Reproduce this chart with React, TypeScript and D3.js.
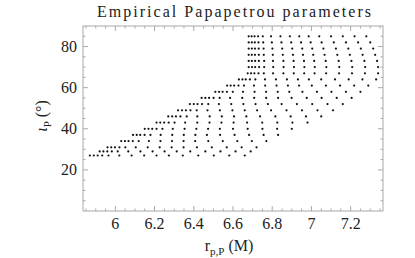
import React from 'react';
import * as d3 from 'd3';

// inclination rows (deg), top to bottom
const iotaRows = [85, 82, 79, 76, 73, 70, 67, 64, 61, 58, 55, 52, 49, 46, 43, 40, 37, 34, 31, 29, 27];

// r_{p,P} values of the dots on each row, left to right
const rpRows = [
  [6.68, 6.695, 6.71, 6.728, 6.752, 6.794, 6.842, 6.89, 6.938, 6.986, 7.04, 7.10, 7.16, 7.22, 7.28],
  [6.68, 6.696, 6.711, 6.73, 6.754, 6.798, 6.847, 6.897, 6.947, 6.996, 7.052, 7.114, 7.176, 7.238, 7.30],
  [6.68, 6.696, 6.712, 6.731, 6.756, 6.801, 6.851, 6.902, 6.953, 7.004, 7.061, 7.125, 7.188, 7.252, 7.315],
  [6.68, 6.696, 6.712, 6.732, 6.757, 6.803, 6.854, 6.906, 6.957, 7.009, 7.067, 7.132, 7.196, 7.261, 7.325],
  [6.68, 6.696, 6.713, 6.732, 6.759, 6.804, 6.857, 6.909, 6.962, 7.014, 7.073, 7.139, 7.204, 7.27, 7.335],
  [6.68, 6.697, 6.713, 6.733, 6.759, 6.805, 6.858, 6.911, 6.964, 7.017, 7.076, 7.142, 7.208, 7.274, 7.34],
  [6.675, 6.692, 6.709, 6.73, 6.757, 6.804, 6.857, 6.91, 6.963, 7.016, 7.075, 7.141, 7.207, 7.273, 7.34],
  [6.63, 6.648, 6.665, 6.686, 6.714, 6.763, 6.819, 6.875, 6.931, 6.987, 7.05, 7.12, 7.19, 7.26, 7.33],
  [6.57, 6.588, 6.606, 6.628, 6.656, 6.707, 6.764, 6.822, 6.88, 6.937, 7.002, 7.074, 7.146, 7.218, 7.29],
  [6.51, 6.529, 6.547, 6.569, 6.599, 6.651, 6.71, 6.769, 6.828, 6.887, 6.954, 7.028, 7.102, 7.176, 7.25],
  [6.44, 6.459, 6.478, 6.501, 6.532, 6.585, 6.647, 6.708, 6.769, 6.83, 6.899, 6.976, 7.052, 7.129, 7.205],
  [6.38, 6.40, 6.419, 6.442, 6.474, 6.528, 6.591, 6.653, 6.715, 6.778, 6.848, 6.926, 7.004, 7.082, 7.16],
  [6.32, 6.34, 6.36, 6.383, 6.415, 6.47, 6.533, 6.597, 6.66, 6.723, 6.794, 6.873, 6.952, 7.031, 7.11],
  [6.27, 6.29, 6.309, 6.332, 6.364, 6.418, 6.481, 6.543, 6.605, 6.668, 6.738, 6.816, 6.894, 6.972, 7.05],
  [6.21, 6.229, 6.249, 6.272, 6.302, 6.356, 6.418, 6.48, 6.541, 6.603, 6.672, 6.749, 6.826, 6.903, 6.98],
  [6.15, 6.169, 6.188, 6.21, 6.24, 6.293, 6.353, 6.413, 6.473, 6.533, 6.60, 6.675, 6.75, 6.825, 6.90],
  [6.09, 6.109, 6.127, 6.149, 6.179, 6.231, 6.29, 6.349, 6.408, 6.467, 6.534, 6.608, 6.682, 6.756, 6.83],
  [6.03, 6.049, 6.067, 6.089, 6.119, 6.171, 6.23, 6.289, 6.348, 6.407, 6.474, 6.548, 6.622, 6.696, 6.77],
  [5.96, 5.979, 5.998, 6.021, 6.051, 6.104, 6.165, 6.226, 6.287, 6.348, 6.416, 6.492, 6.568, 6.644, 6.72],
  [5.92, 5.939, 5.959, 5.982, 6.012, 6.066, 6.128, 6.19, 6.251, 6.313, 6.382, 6.459, 6.536, 6.613, 6.69],
  [5.87, 5.89, 5.91, 5.933, 5.965, 6.02, 6.083, 6.147, 6.21, 6.273, 6.344, 6.423, 6.502, 6.581, 6.66],
];

const xTickLabels = ['6', '6.2', '6.4', '6.6', '6.8', '7', '7.2'];
const yTickLabels = ['20', '40', '60', '80'];

const W = 415;
const H = 258;
const FONT = '"Liberation Serif", "DejaVu Serif", serif';
const AXIS = '#a8a8a8';

export default function App() {
  const margin = { top: 26, right: 32, bottom: 47, left: 83 };

  const x = d3.scaleLinear().domain([5.835, 7.365]).range([margin.left, W - margin.right]);
  const y = d3.scaleLinear().domain([0, 90]).range([H - margin.bottom, margin.top]);

  const x0 = margin.left, x1 = W - margin.right;
  const y0 = H - margin.bottom, y1 = margin.top;

  const xMinor = d3.range(5.85, 7.36, 0.05);
  const xMajor = xTickLabels.map(Number);
  const yMinor = d3.range(5, 90, 5);
  const yMajor = yTickLabels.map(Number);

  const points = iotaRows.flatMap((iota, i) => rpRows[i].map(r => ({ r, iota })));

  return (
    <svg width={W} height={H} style={{ position: 'absolute', left: 0, top: 0, background: 'white' }}>
      {/* frame */}
      <rect x={x0} y={y1} width={x1 - x0} height={y0 - y1} fill="none" stroke={AXIS} strokeWidth={1} />

      {/* x ticks, bottom and top */}
      {xMinor.map((v, i) => {
        const major = xMajor.some(m => Math.abs(m - v) < 1e-6);
        const len = major ? 5 : 2.5;
        return (
          <g key={'xt' + i} stroke={AXIS}>
            <line x1={x(v)} x2={x(v)} y1={y0} y2={y0 - len} />
            <line x1={x(v)} x2={x(v)} y1={y1} y2={y1 + len} />
          </g>
        );
      })}
      {/* y ticks, left and right */}
      {yMinor.map((v, i) => {
        const major = yMajor.includes(v);
        const len = major ? 5 : 2.5;
        return (
          <g key={'yt' + i} stroke={AXIS}>
            <line x1={x0} x2={x0 + len} y1={y(v)} y2={y(v)} />
            <line x1={x1} x2={x1 - len} y1={y(v)} y2={y(v)} />
          </g>
        );
      })}

      {/* tick labels */}
      {xTickLabels.map(t => (
        <text key={'xl' + t} x={x(+t)} y={229} textAnchor="middle" fontFamily={FONT} fontSize={16} fill="#222">
          {t}
        </text>
      ))}
      {yTickLabels.map(t => (
        <text key={'yl' + t} x={77} y={y(+t) + 5.5} textAnchor="end" fontFamily={FONT} fontSize={16} fill="#222">
          {t}
        </text>
      ))}

      {/* dots */}
      {points.map((p, i) => (
        <circle key={i} cx={x(p.r)} cy={y(p.iota)} r={1.1} fill="#111" />
      ))}

      {/* title */}
      <text x={234} y={17} textAnchor="middle" fontFamily={FONT} fontSize={16} fill="#222"
        textLength={274} lengthAdjust="spacing">
        Empirical Papapetrou parameters
      </text>

      {/* x label */}
      <text x={229} y={251} textAnchor="middle" fontFamily={FONT} fontSize={16} fill="#222">
        r<tspan fontSize={11} dy={4}>p,P</tspan><tspan dy={-4}>  (M)</tspan>
      </text>

      {/* y label */}
      <text transform="translate(47,116) rotate(-90)" textAnchor="middle" fontFamily={FONT} fontSize={16} fill="#222">
        <tspan fontStyle="italic">ι</tspan><tspan fontSize={11} dy={4}>P</tspan><tspan dy={-4}> (°)</tspan>
      </text>
    </svg>
  );
}
